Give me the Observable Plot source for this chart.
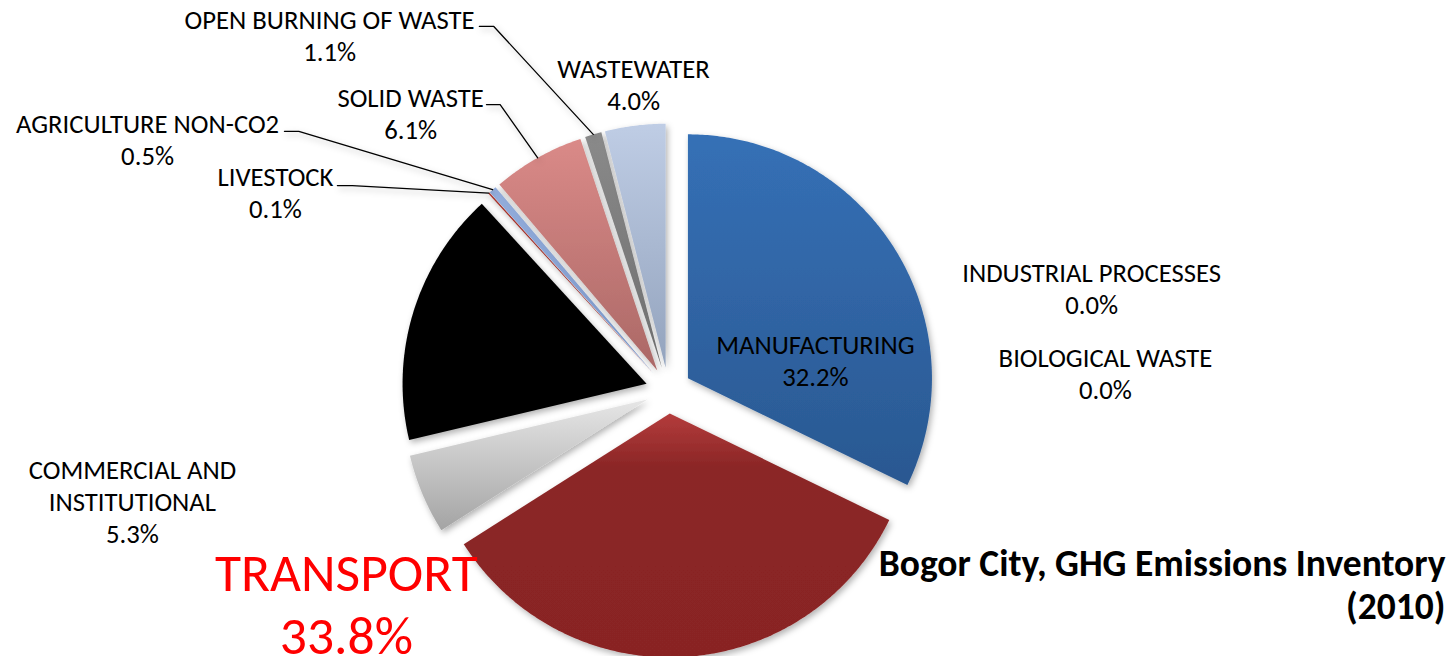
<!DOCTYPE html>
<html>
<head>
<meta charset="utf-8">
<script src="https://cdn.jsdelivr.net/npm/d3@7"></script>
<script src="https://cdn.jsdelivr.net/npm/@observablehq/plot@0.6"></script>
<style>
  html, body { margin: 0; padding: 0; background: #fff; }
  #chart svg { display: block; }
</style>
</head>
<body>
<div id="chart"></div>
<script>
// ---------------- DATA ----------------
const categories = [
  "MANUFACTURING",
  "INDUSTRIAL PROCESSES",
  "BIOLOGICAL WASTE",
  "TRANSPORT",
  "COMMERCIAL AND INSTITUTIONAL",
  "RESIDENTIAL",
  "LIVESTOCK",
  "AGRICULTURE NON-CO2",
  "SOLID WASTE",
  "OPEN BURNING OF WASTE",
  "WASTEWATER"
];
const shares = [32.2, 0.0, 0.0, 33.8, 5.3, 16.9, 0.1, 0.5, 6.1, 1.1, 4.0];
const titleText = "Bogor City, GHG Emissions Inventory\n(2010)";

// ---------------- STYLE ----------------
// gradient [top, bottom] per category
const palette = {
  "MANUFACTURING": ["#3570b6", "#2a5891"],
  "INDUSTRIAL PROCESSES": ["#888", "#666"],
  "BIOLOGICAL WASTE": ["#888", "#666"],
  "TRANSPORT": ["#b43c3c", "#892424"],
  "COMMERCIAL AND INSTITUTIONAL": ["#e6e6e6", "#a4a4a4"],
  "RESIDENTIAL": ["#000000", "#000000"],
  "LIVESTOCK": ["#c03a32", "#a82e2a"],
  "AGRICULTURE NON-CO2": ["#93addc", "#7a96c8"],
  "SOLID WASTE": ["#da8a88", "#ab6866"],
  "OPEN BURNING OF WASTE": ["#8a8a8a", "#6e6e6e"],
  "WASTEWATER": ["#bfcde5", "#93a3bd"]
};
// label placement in pie units (radius = 1, y up); leader = [startX, elbowX, y]
const labelLayout = {
  "MANUFACTURING": {x: 0.602, y: 0.125},
  "INDUSTRIAL PROCESSES": {x: 1.734, y: 0.42},
  "BIOLOGICAL WASTE": {x: 1.791, y: 0.071},
  "TRANSPORT": {x: -1.320, y: -0.868},
  "COMMERCIAL AND INSTITUTIONAL": {x: -2.197, y: -0.45, wrap: "COMMERCIAL AND\nINSTITUTIONAL"},
  "LIVESTOCK": {x: -1.611, y: 0.813, leader: [-1.357, -1.296, 0.840]},
  "AGRICULTURE NON-CO2": {x: -2.135, y: 1.030, leader: [-1.574, -1.515, 1.062]},
  "SOLID WASTE": {x: -1.057, y: 1.137, leader: [-0.746, -0.690, 1.172]},
  "OPEN BURNING OF WASTE": {x: -1.389, y: 1.457, leader: [-0.775, -0.716, 1.492]},
  "WASTEWATER": {x: -0.143, y: 1.256}
};

const W = 1454, H = 656;
const CX = 668, CY = 390, R = 244;   // pie centre and radius in pixels
const EXPLODE = 0.094;               // explosion in radius units
const FONT = "Carlito, 'Liberation Sans Narrow', 'Arial Narrow', 'Open Sans', sans-serif";

// ---------------- GEOMETRY ----------------
const arcs = d3.pie().sort(null).value(d => d)(shares);
arcs.forEach((a, i) => {
  a.name = categories[i];
  a.mid = (a.startAngle + a.endAngle) / 2;
  a.ox = EXPLODE * Math.sin(a.mid);
  a.oy = EXPLODE * Math.cos(a.mid);
});

function slicePoints(a) {
  const pts = [{name: a.name, x: a.ox, y: a.oy}];
  const n = Math.max(2, Math.ceil((a.endAngle - a.startAngle) / 0.01));
  for (let k = 0; k <= n; k++) {
    const t = a.startAngle + (a.endAngle - a.startAngle) * k / n;
    pts.push({name: a.name, x: a.ox + Math.sin(t), y: a.oy + Math.cos(t)});
  }
  pts.push({name: a.name, x: a.ox, y: a.oy});
  return pts;
}

const gradId = name => "grad-" + categories.indexOf(name);

const sliceMarks = arcs
  .filter(a => a.value > 0)
  .map(a => Plot.line(slicePoints(a), {
    x: "x", y: "y", fill: `url(#${gradId(a.name)})`, stroke: "none", curve: "linear"
  }));

const labels = arcs
  .filter(a => labelLayout[a.name])
  .map(a => {
    const L = labelLayout[a.name];
    return {
      name: a.name,
      x: L.x, y: L.y,
      text: (L.wrap || a.name) + "\n" + a.value.toFixed(1) + "%"
    };
  });

const leaderPts = [];
arcs.forEach(a => {
  const L = labelLayout[a.name];
  if (!L || !L.leader) return;
  const [sx, ex, ly] = L.leader;
  leaderPts.push({name: a.name, x: sx, y: ly});
  leaderPts.push({name: a.name, x: ex, y: ly});
  leaderPts.push({name: a.name, x: a.ox + Math.sin(a.mid), y: a.oy + Math.cos(a.mid)});
});

const smallLabels = labels.filter(d => d.name !== "TRANSPORT");
const bigLabels = labels.filter(d => d.name === "TRANSPORT");

const chart = Plot.plot({
  width: W,
  height: H,
  margin: 0,
  style: {background: "#fff", fontFamily: FONT},
  x: {domain: [-CX / R, (W - CX) / R], axis: null},
  y: {domain: [-(H - CY) / R, CY / R], axis: null},
  marks: [
    ...sliceMarks,
    Plot.line(leaderPts, {x: "x", y: "y", z: "name", stroke: "#000", strokeWidth: 1.3}),
    Plot.text(smallLabels, {
      x: "x", y: "y", text: "text", fontSize: 26.7, lineHeight: 1.2,
      fill: "#000", fontFamily: FONT
    }),
    Plot.text(bigLabels, {
      x: "x", y: "y", text: "text", fontSize: 53.5, lineHeight: 1.17,
      fill: "#ff0000", fontFamily: FONT
    }),
    Plot.text([titleText], {
      text: d => d, frameAnchor: "bottom-right", textAnchor: "end", lineAnchor: "bottom",
      dx: -9, dy: -38, fontSize: 37.5, fontWeight: "bold", lineHeight: 1.13,
      fill: "#000", fontFamily: FONT
    })
  ]
});

// gradient + shadow definitions
const svg = d3.select(chart);
const defs = svg.insert("defs", ":first-child");
categories.forEach(name => {
  const g = defs.append("linearGradient")
    .attr("id", gradId(name))
    .attr("x1", 0).attr("y1", 0).attr("x2", 0).attr("y2", 1);
  const [c0, c1] = palette[name];
  if (name === "TRANSPORT") {
    g.append("stop").attr("offset", "0%").attr("stop-color", c0);
    g.append("stop").attr("offset", "22%").attr("stop-color", "#8b2626");
    g.append("stop").attr("offset", "100%").attr("stop-color", c1);
  } else {
    g.append("stop").attr("offset", "0%").attr("stop-color", c0);
    g.append("stop").attr("offset", "100%").attr("stop-color", c1);
  }
});
const f = defs.append("filter").attr("id", "slice-shadow")
  .attr("filterUnits", "userSpaceOnUse")
  .attr("x", 0).attr("y", 0).attr("width", W).attr("height", H);
f.append("feDropShadow").attr("dx", 2).attr("dy", 3).attr("stdDeviation", 3)
  .attr("flood-color", "#000").attr("flood-opacity", 0.3);
svg.selectAll("g[aria-label='line']").filter(function () {
  return d3.select(this).select("path").attr("fill") !== "none";
}).attr("filter", "url(#slice-shadow)");

document.getElementById("chart").appendChild(chart);
</script>
</body>
</html>
